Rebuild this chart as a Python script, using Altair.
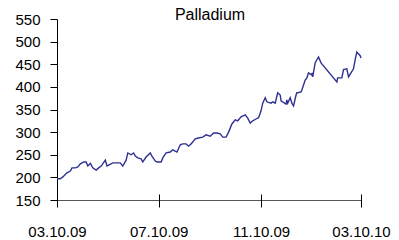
import altair as alt
import pandas as pd

dates = [
    "2009-03-10", "2009-03-14", "2009-03-17", "2009-03-22", "2009-03-26", "2009-03-28",
    "2009-04-01", "2009-04-04", "2009-04-07", "2009-04-11", "2009-04-14", "2009-04-16",
    "2009-04-19", "2009-04-22", "2009-04-26", "2009-04-29", "2009-05-02", "2009-05-07",
    "2009-05-09", "2009-05-11", "2009-05-16", "2009-05-25", "2009-05-28", "2009-06-01",
    "2009-06-03", "2009-06-07", "2009-06-10", "2009-06-12", "2009-06-15", "2009-06-19",
    "2009-06-21", "2009-06-25", "2009-06-30", "2009-07-02", "2009-07-06", "2009-07-08",
    "2009-07-13", "2009-07-15", "2009-07-19", "2009-07-24", "2009-07-27", "2009-08-01",
    "2009-08-05", "2009-08-08", "2009-08-12", "2009-08-15", "2009-08-18", "2009-08-23",
    "2009-08-27", "2009-09-01", "2009-09-05", "2009-09-10", "2009-09-14", "2009-09-18",
    "2009-09-22", "2009-09-25", "2009-09-29", "2009-10-02", "2009-10-06", "2009-10-10",
    "2009-10-13", "2009-10-17", "2009-10-22", "2009-10-25", "2009-10-28", "2009-10-31",
    "2009-11-04", "2009-11-07", "2009-11-10", "2009-11-12", "2009-11-15", "2009-11-17",
    "2009-11-22", "2009-11-24", "2009-11-27", "2009-11-30", "2009-12-03", "2009-12-04",
    "2009-12-10", "2009-12-11", "2009-12-12", "2009-12-15", "2009-12-17", "2009-12-19",
    "2009-12-22", "2009-12-23", "2009-12-24", "2009-12-28", "2009-12-29", "2009-12-31",
    "2010-01-02", "2010-01-04", "2010-01-06", "2010-01-09", "2010-01-10", "2010-01-11",
    "2010-01-14", "2010-01-16", "2010-01-18", "2010-01-21", "2010-02-09", "2010-02-10",
    "2010-02-15", "2010-02-17", "2010-02-21", "2010-02-23", "2010-02-26", "2010-03-01",
    "2010-03-03", "2010-03-05", "2010-03-06", "2010-03-09", "2010-03-10",
]
prices = [
    197, 197, 201, 210, 214, 221,
    221, 223, 230, 234, 234, 225,
    231, 221, 216, 221, 225, 238,
    225, 227, 232, 232, 225, 238,
    254, 250, 254, 247, 243, 241,
    234, 245, 254, 247, 236, 234,
    234, 243, 254, 256, 261, 256,
    272, 274, 274, 269, 274, 285,
    287, 289, 294, 291, 298, 298,
    296, 289, 289, 300, 318, 327,
    325, 334, 338, 331, 320, 325,
    329, 332, 347, 364, 376, 367,
    364, 367, 364, 387, 382, 369,
    362, 371, 364, 376, 364, 358,
    382, 387, 387, 389, 393, 404,
    415, 420, 431, 427, 429, 422,
    453, 460, 466, 453, 411, 420,
    420, 438, 440, 422, 431, 440,
    460, 477, 475, 469, 464,
]
x_ticks = ["2009-03-10", "2009-07-10", "2009-11-10", "2010-03-10"]
y_ticks = [150, 200, 250, 300, 350, 400, 450, 500, 550]
title_text = ["Palladium"]

df = pd.DataFrame({"date": dates, "price": prices})


def dt(s):
    y, m, d = map(int, s.split("-"))
    return alt.DateTime(year=y, month=m, date=d, utc=True)


FONT = "Liberation Sans"
x_scale = alt.Scale(type="utc", domain=[dt(x_ticks[0]), dt(x_ticks[-1])], nice=False)
y_scale = alt.Scale(domain=[150, 550], nice=False, zero=False)

line = alt.Chart(df).mark_line(color="#2e3192", strokeWidth=1.4).encode(
    x=alt.X("date:T", scale=x_scale,
            axis=alt.Axis(values=[dt(v) for v in x_ticks], orient="bottom",
                          labelExpr="utcFormat(datum.value, '%m.%d.%y')",
                          title=None, grid=False, ticks=False, labelFlush=False,
                          tickSize=0, labelPadding=24, labelFontSize=15,
                          labelFont=FONT, labelColor="#000000",
                          domainColor="#555555", domainWidth=1)),
    y=alt.Y("price:Q", scale=y_scale,
            axis=alt.Axis(values=y_ticks, title=None, grid=False, tickSize=7,
                          labelPadding=10, labelFontSize=15, labelFont=FONT,
                          labelColor="#000000", tickColor="#000000",
                          domainColor="#000000", domainWidth=1)),
)

ticks = alt.Chart(df).mark_line(strokeOpacity=0).encode(
    x=alt.X("date:T", scale=x_scale,
            axis=alt.Axis(values=[dt(v) for v in x_ticks], orient="bottom",
                          title=None, grid=False,
                          domain=False, labels=False, ticks=True, tickSize=13,
                          offset=-6, tickColor="#000000", tickWidth=1)),
    y=alt.Y("price:Q", scale=y_scale, axis=None),
)

title = alt.Chart(pd.DataFrame({"t": title_text})).mark_text(
    font=FONT, fontSize=16, color="#000000", baseline="alphabetic", align="center"
).encode(text="t:N", x=alt.value(153), y=alt.value(1))

chart = alt.layer(line, ticks, title).resolve_axis(x="independent", y="independent").properties(
    width=304,
    height=181,
    autosize=alt.AutoSizeParams(type="none"),
    padding={"left": 49, "top": 11, "right": 30, "bottom": 38},
).configure_view(stroke=None)

chart.save("out.html", embed_options={"renderer": "svg", "actions": False})
